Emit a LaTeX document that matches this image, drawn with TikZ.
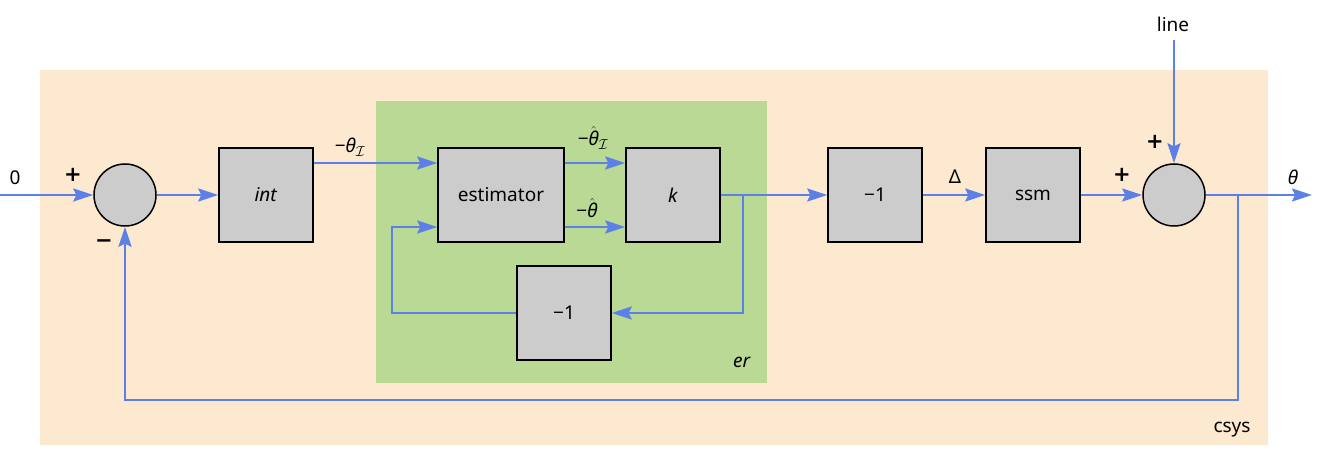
\documentclass[tikz,border=0pt]{standalone}
\usepackage{fontspec}
\setmainfont{Noto Sans}
\newfontfamily\sgnfont{DejaVu Sans}
\usetikzlibrary{arrows.meta}
\definecolor{csysbg}{RGB}{252,233,207}
\definecolor{erbg}{RGB}{185,217,148}
\definecolor{sigblue}{RGB}{92,128,230}
\definecolor{blkgray}{RGB}{204,204,204}
\newcommand{\tht}{\mbox{\itshape θ}}
\begin{document}
\begin{tikzpicture}[x=1pt,y=-1pt,
	font=\fontsize{19}{22}\selectfont,
	blk/.style={draw=black,line width=1.5pt,fill=blkgray,minimum width=94pt,minimum height=94pt,inner sep=0pt},
	sumc/.style={circle,draw=black,line width=1.5pt,fill=blkgray,minimum size=62pt,inner sep=0pt},
	wire/.style={draw=sigblue,line width=2pt},
	sig/.style={wire,-{Stealth[length=20pt,width=13pt,inset=3pt]}},
	sgn/.style={font=\fontsize{21}{21}\sgnfont\bfseries,inner sep=0pt}]
		\useasboundingbox (0,0) rectangle (1318,454);
		% subsystems
		\fill[csysbg] (40,70) rectangle (1268,445);
		\fill[erbg] (376,101) rectangle (767,383);
		\node (csys) at (1232,430) {csys};
		\node (er) at (742,362) {\textit{er}};
		% blocks
		\node[sumc] (sum1) at (125,195) {};
		\node[blk] (int) at (266,195) {\textit{int}};
		\node[blk,minimum width=126pt] (est) at (501,195) {estimator};
		\node[blk] (k) at (673,195) {\textit{k}};
		\node[blk] (neg2) at (564,313) {−1};
		\node[blk] (neg1) at (875,195) {−1};
		\node[blk] (ssm) at (1033,195) {ssm};
		\node[sumc] (sum2) at (1174,195) {};
		% free ends and branch points
		\coordinate (in) at (0,195);
		\coordinate (out) at (1312,195);
		\coordinate (dist) at (1174,40);
		\coordinate (kb) at (743,195);
		\coordinate (fbl) at (392,313);
		\coordinate (ob) at (1238,195);
		\coordinate (fb) at (1238,400);
		% signals
		\draw[sig] (in) -- (sum1);
		\draw[sig] (sum1) -- (int);
		\draw[sig] ([yshift=32pt]int.east) -- ([yshift=32pt]est.west);
		\draw[sig] ([yshift=32pt]est.east) -- ([yshift=32pt]k.west);
		\draw[sig] ([yshift=-32pt]est.east) -- ([yshift=-32pt]k.west);
		\draw[sig] (kb) |- (neg2.east);
		\draw[sig] (neg2.west) -- (fbl) |- ([yshift=-32pt]est.west);
		\draw[sig] (k) -- (neg1);
		\draw[sig] (neg1) -- (ssm);
		\draw[sig] (ssm) -- (sum2);
		\draw[sig] (dist) -- (sum2);
		\draw[sig] (sum2) -- (out);
		\draw[sig] (ob) -- (fb) -| (sum1.south);
		% labels
		\node (l0) at (15,178) {0};
		\node (lline) at (1173,24) {line};
		\node (ltheta) at (1293,177) {\tht};
		\node (lthi) at (350,147) {−\tht$_{\mathcal{I}}$};
		\node (lthhi) at (593,138) {−$\hat{\tht}_{\mathcal{I}}$};
		\node (lthh) at (587,208) {−$\hat{\tht}$};
		\node (ldelta) at (955,177) {Δ};
		% signs
		\node[sgn] (p1) at (73,175) {+};
		\node[sgn] (m1) at (104,244) {−};
		\node[sgn] (p2) at (1122,175) {+};
		\node[sgn] (p3) at (1155,142) {+};
\end{tikzpicture}
\end{document}
